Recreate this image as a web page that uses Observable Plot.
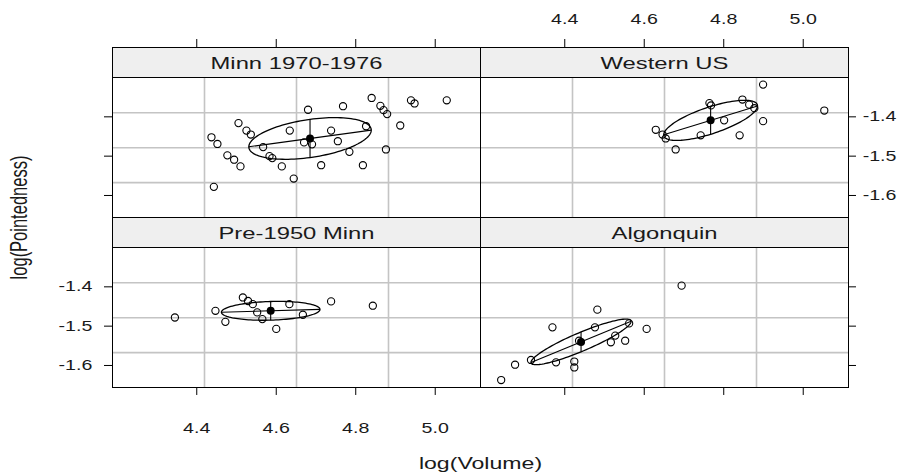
<!DOCTYPE html>
<html><head><meta charset="utf-8">
<script src="https://cdn.jsdelivr.net/npm/d3@7"></script>
<script src="https://cdn.jsdelivr.net/npm/@observablehq/plot@0.6"></script>
<style>
body{margin:0;background:#fff;}
#chart svg{font-family:"Liberation Sans",Arial,sans-serif;background:#fff;}
</style></head><body><div id="chart"></div>
<script>
// ---- data ----
const panels = ["Minn 1970-1976", "Western US", "Pre-1950 Minn", "Algonquin"];
const panelCol = ["L", "R", "L", "R"];
const panelRow = ["T", "T", "B", "B"];

const minnX = [4.437,4.452,4.477,4.494,4.510,4.443,4.505,4.525,4.536,4.567,4.590,4.614,4.644,4.634,4.680,4.713,4.738,4.768,4.755,4.784,4.818,4.826,4.840,4.862,4.870,4.879,4.876,4.912,4.939,4.948,5.029,4.670,4.690,4.583];
const minnY = [-1.452,-1.469,-1.498,-1.509,-1.526,-1.578,-1.416,-1.435,-1.445,-1.477,-1.505,-1.526,-1.557,-1.435,-1.382,-1.523,-1.435,-1.373,-1.462,-1.489,-1.523,-1.424,-1.352,-1.372,-1.383,-1.393,-1.483,-1.422,-1.358,-1.366,-1.358,-1.465,-1.470,-1.500];

const westX = [4.899,5.053,4.899,4.840,4.742,4.801,4.629,4.646,4.654,4.679,4.764,4.768,4.847,4.864,4.877];
const westY = [-1.318,-1.384,-1.411,-1.447,-1.447,-1.409,-1.433,-1.445,-1.455,-1.483,-1.365,-1.371,-1.356,-1.369,-1.378];

const preX = [4.345,4.447,4.472,4.516,4.529,4.541,4.552,4.600,4.633,4.667,4.738,4.843,4.565];
const preY = [-1.478,-1.461,-1.489,-1.427,-1.436,-1.444,-1.465,-1.507,-1.444,-1.471,-1.437,-1.448,-1.482];

const algX = [4.240,4.275,4.315,4.369,4.378,4.424,4.424,4.436,4.476,4.482,4.516,4.527,4.552,4.562,4.606,4.694];
const algY = [-1.637,-1.598,-1.586,-1.503,-1.592,-1.590,-1.605,-1.537,-1.503,-1.458,-1.541,-1.524,-1.537,-1.493,-1.507,-1.397];

// data ellipses: centre, half-extent in x and y, correlation
const ellCx = [4.685, 4.767, 4.586, 4.441];
const ellCy = [-1.455, -1.409, -1.461, -1.540];
const ellSx = [0.154, 0.118, 0.124, 0.126];
const ellSy = [0.053, 0.051, 0.024, 0.058];
const ellR  = [0.40, 0.72, 0.15, 0.90];

const xTicks = [4.4, 4.6, 4.8, 5.0];
const xTickLabels = ["4.4", "4.6", "4.8", "5.0"];
const yTicks = [-1.4, -1.5, -1.6];
const yTickLabels = ["-1.4", "-1.5", "-1.6"];

// ---- layout ----
const W = 902, H = 475;
const mL = 111, mR = 54, mT = 46, mB = 88;
const xMin = 4.188, xMax = 5.1139;
const yMin = -1.656, yPanelTop = -1.301, yMax = -1.2237;
const facetH = (H - mT - mB) / 2;
const facetW = (W - mL - mR) / 2;
const uy = (yMax - yMin) / facetH;
const ux = (xMax - xMin) / facetW;
const tickLen = 8;
const S = 1.4; // horizontal text stretch of the original rendering

const pointSets = [[minnX, minnY], [westX, westY], [preX, preY], [algX, algY]];
const points = pointSets.flatMap(([xs, ys], p) => xs.map((x, i) => ({x, y: ys[i], col: panelCol[p], row: panelRow[p]})));

const ellipse = [], axisLines = [];
panels.forEach((_, p) => {
  const phi = Math.acos(ellR[p]);
  for (let k = 0; k <= 120; k++) {
    const t = (k / 120) * 2 * Math.PI;
    ellipse.push({p, col: panelCol[p], row: panelRow[p],
      x: ellCx[p] + ellSx[p] * Math.cos(t), y: ellCy[p] + ellSy[p] * Math.cos(t - phi)});
  }
  axisLines.push({col: panelCol[p], row: panelRow[p],
    x1: ellCx[p] - ellSx[p], y1: ellCy[p] - ellSy[p] * ellR[p],
    x2: ellCx[p] + ellSx[p], y2: ellCy[p] + ellSy[p] * ellR[p]});
  const h = ellSy[p] * Math.sin(phi);
  axisLines.push({col: panelCol[p], row: panelRow[p],
    x1: ellCx[p], y1: ellCy[p] - h, x2: ellCx[p], y2: ellCy[p] + h});
});
const centers = panels.map((_, p) => ({x: ellCx[p], y: ellCy[p], col: panelCol[p], row: panelRow[p]}));

const gridX = [1, 2, 3].map(k => xMin + k * (xMax - xMin) / 4);
const gridY = [1, 2, 3].map(k => yMin + k * (yPanelTop - yMin) / 4);

const cross = (vals, labels, cols, rows, showCol, showRow) => {
  const out = [];
  cols.forEach(c => rows.forEach(r => vals.forEach((v, i) => out.push({v, label: labels[i], col: c, row: r, show: (showCol == null || c === showCol) && (showRow == null || r === showRow)}))));
  return out;
};
const bottomT = cross(xTicks, xTickLabels, ["L", "R"], ["B"], "L", null);
const topT = cross(xTicks, xTickLabels, ["L", "R"], ["T"], "R", null);
const leftT = cross(yTicks, yTickLabels, ["L"], ["T", "B"], null, "B");
const rightT = cross(yTicks, yTickLabels, ["R"], ["T", "B"], null, "T");

const fc = {fx: "col", fy: "row"};
const pc = {fx: (d, i) => panelCol[i], fy: (d, i) => panelRow[i]};
const tickTextStyle = {fontSize: 14, fill: "#1a1a1a", className: "stretch"};

const chart = Plot.plot({
  width: W, height: H,
  marginLeft: mL, marginRight: mR, marginTop: mT, marginBottom: mB,
  x: {type: "linear", domain: [xMin, xMax], axis: null},
  y: {type: "linear", domain: [yMin, yMax], axis: null},
  fx: {domain: ["L", "R"], paddingInner: 0, paddingOuter: 0, axis: null},
  fy: {domain: ["T", "B"], paddingInner: 0, paddingOuter: 0, axis: null},
  marks: [
    // strips
    Plot.rect(panels, {x1: xMin, x2: xMax, y1: yPanelTop, y2: yMax, ...pc, fill: "#efefef", stroke: "black", shapeRendering: "crispEdges"}),
    Plot.text(panels, {x: (xMin + xMax) / 2, y: (yPanelTop + yMax) / 2, text: d => d, ...pc, fontSize: 17, fill: "#1a1a1a", className: "stretch", dy: 1}),
    // grid
    Plot.ruleX(gridX, {x: d => d, y1: yMin, y2: yPanelTop, stroke: "#c4c4c4", strokeWidth: 1.6}),
    Plot.ruleY(gridY, {y: d => d, x1: xMin, x2: xMax, stroke: "#c4c4c4", strokeWidth: 1.6}),
    // panel border
    Plot.rect(panels, {x1: xMin, x2: xMax, y1: yMin, y2: yPanelTop, ...pc, fill: "none", stroke: "black", shapeRendering: "crispEdges"}),
    // data
    Plot.dot(points, {x: "x", y: "y", ...fc, r: 3.6, stroke: "black", strokeWidth: 1.1, fill: "none"}),
    Plot.line(ellipse, {x: "x", y: "y", z: "p", ...fc, stroke: "black", strokeWidth: 1.3}),
    Plot.link(axisLines, {x1: "x1", y1: "y1", x2: "x2", y2: "y2", ...fc, stroke: "black", strokeWidth: 1.1}),
    Plot.dot(centers, {x: "x", y: "y", ...fc, r: 4, fill: "black"}),
    // ticks
    Plot.ruleX(bottomT, {x: "v", y1: yMin, y2: yMin - tickLen * uy, ...fc, stroke: "black"}),
    Plot.ruleX(topT, {x: "v", y1: yMax, y2: yMax + tickLen * uy, ...fc, stroke: "black"}),
    Plot.ruleY(leftT, {y: "v", x1: xMin, x2: xMin - tickLen * ux, ...fc, stroke: "black"}),
    Plot.ruleY(rightT, {y: "v", x1: xMax, x2: xMax + tickLen * ux, ...fc, stroke: "black"}),
    // tick labels
    Plot.text(bottomT.filter(d => d.show), {x: "v", y: yMin, text: "label", ...fc, dy: 41, ...tickTextStyle}),
    Plot.text(topT.filter(d => d.show), {x: "v", y: yMax, text: "label", ...fc, dy: -28, ...tickTextStyle}),
    Plot.text(leftT.filter(d => d.show), {x: xMin, y: "v", text: "label", ...fc, dx: -25, textAnchor: "end", ...tickTextStyle}),
    Plot.text(rightT.filter(d => d.show), {x: xMax, y: "v", text: "label", ...fc, dx: 19, textAnchor: "start", ...tickTextStyle}),
    // axis titles
    Plot.text(["log(Volume)"], {x: xMin, y: yMin, fx: () => "R", fy: () => "B", text: d => d, dy: 76, fontSize: 16.5, fill: "#1a1a1a", className: "stretch"}),
    Plot.text(["log(Pointedness)"], {x: xMin, y: yMin, fx: () => "L", fy: () => "T", text: d => d, dx: -93, rotate: -90, fontSize: 16.5, fill: "#1a1a1a", className: "stretchv"})
  ]
});
document.getElementById("chart").appendChild(chart);

const svg = d3.select(chart.tagName.toLowerCase() === "svg" ? chart : chart.querySelector("svg"));
// stretch text horizontally as in the original rendering
svg.selectAll("g.stretch text").each(function () {
  const b = this.getBBox();
  const cx = b.x + b.width / 2;
  const tr = this.getAttribute("transform") || "";
  this.setAttribute("transform", `${tr} translate(${cx},0) scale(${S},1) translate(${-cx},0)`);
});
svg.selectAll("g.stretchv text").each(function () {
  const b = this.getBBox();
  const cy = b.y + b.height / 2;
  const tr = this.getAttribute("transform") || "";
  this.setAttribute("transform", `${tr} translate(0,${cy}) scale(1,${S}) translate(0,${-cy})`);
});
</script></body></html>
